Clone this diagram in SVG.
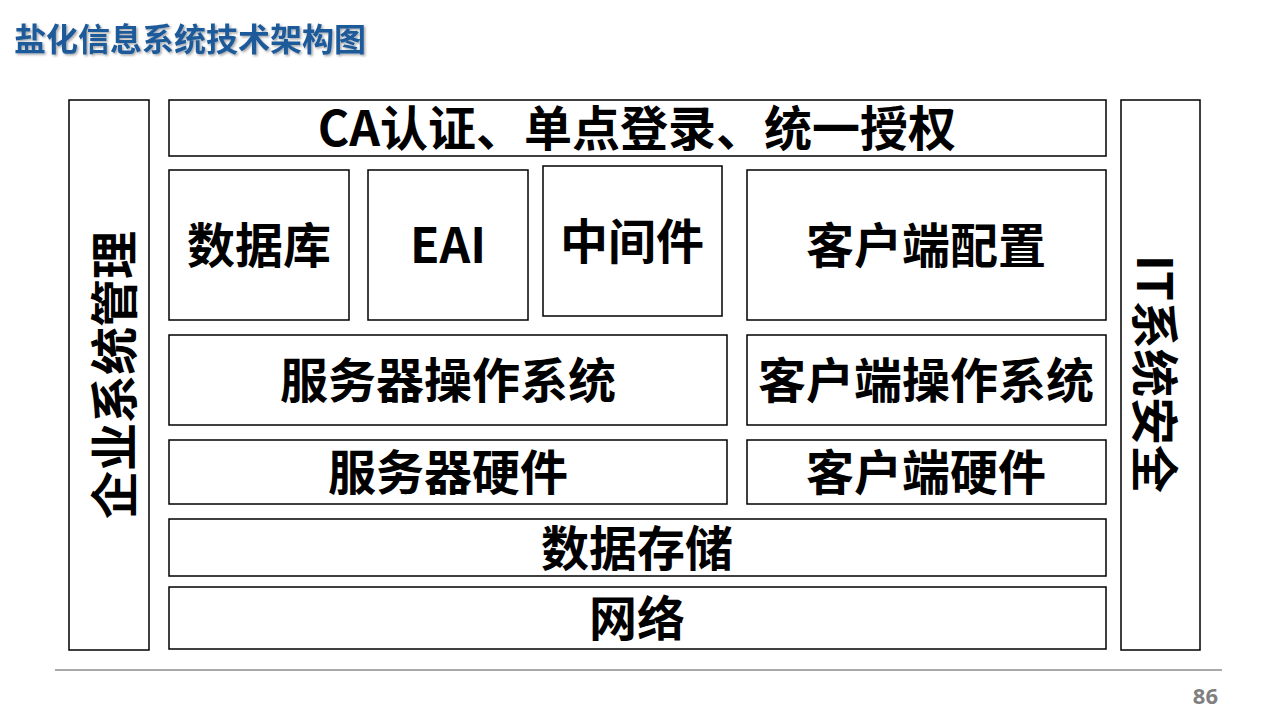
<svg xmlns="http://www.w3.org/2000/svg" width="1280" height="720" viewBox="0 0 1280 720">
<defs>
<filter id="sh" x="-5%" y="-20%" width="110%" height="150%">
<feDropShadow dx="1.5" dy="1.5" stdDeviation="1" flood-color="#000" flood-opacity="0.35"/>
</filter>
</defs>
<style>
.box{fill:#fff;stroke:#000;stroke-width:1.5}
.t{font-family:"Noto Sans CJK SC","Microsoft YaHei",sans-serif;font-weight:bold;font-size:48px;fill:#000;text-anchor:middle;dominant-baseline:central}
.title{font-family:"Noto Sans CJK SC",sans-serif;font-weight:bold;font-size:32px;fill:#1F5A9A}
</style>
<rect width="1280" height="720" fill="#fff"/>
<text class="title" x="14" y="51" filter="url(#sh)">盐化信息系统技术架构图</text>
<g id="left"><rect class="box" x="69" y="100" width="80" height="550"/><text class="t" transform="translate(111 375) rotate(-90)">企业系统管理</text></g>
<g id="right"><rect class="box" x="1121" y="100" width="79" height="550"/><text class="t" transform="translate(1158 374) rotate(90)">IT系统安全</text></g>
<g id="ca"><rect class="box" x="169" y="100" width="937" height="56"/><text class="t" x="637" y="125">CA认证、单点登录、统一授权</text></g>
<g id="db"><rect class="box" x="169" y="170" width="180" height="150"/><text class="t" x="259" y="242">数据库</text></g>
<g id="eai"><rect class="box" x="368" y="170" width="160" height="150"/><text class="t" x="448" y="242">EAI</text></g>
<g id="mw"><rect class="box" x="543" y="166" width="179" height="150"/><text class="t" x="632" y="238">中间件</text></g>
<g id="cc"><rect class="box" x="747" y="170" width="359" height="150"/><text class="t" x="926" y="242">客户端配置</text></g>
<g id="sos"><rect class="box" x="169" y="335" width="558" height="90"/><text class="t" x="448" y="377">服务器操作系统</text></g>
<g id="cos"><rect class="box" x="747" y="335" width="359" height="90"/><text class="t" x="926" y="377">客户端操作系统</text></g>
<g id="shw"><rect class="box" x="169" y="440" width="558" height="64"/><text class="t" x="448" y="469">服务器硬件</text></g>
<g id="chw"><rect class="box" x="747" y="440" width="359" height="64"/><text class="t" x="926" y="469">客户端硬件</text></g>
<g id="ds"><rect class="box" x="169" y="519" width="937" height="57"/><text class="t" x="637" y="545">数据存储</text></g>
<g id="net"><rect class="box" x="169" y="587" width="937" height="62"/><text class="t" x="637" y="615">网络</text></g>
<g id="connectors"></g>
<line x1="55" y1="670" x2="1222" y2="670" stroke="#8c8c8c" stroke-width="1.5"/>
<text x="1218" y="704" font-family="'Open Sans','Liberation Sans',sans-serif" font-weight="bold" font-size="22" fill="#7f7f7f" text-anchor="end">86</text>
</svg>
